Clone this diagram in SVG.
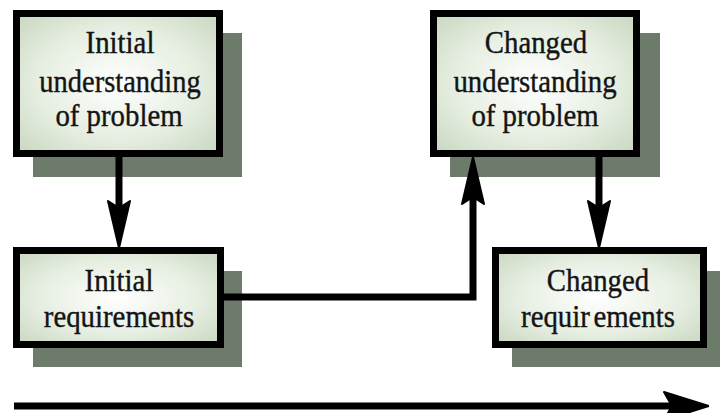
<svg xmlns="http://www.w3.org/2000/svg" width="720" height="413" viewBox="0 0 720 413">
  <defs>
    <radialGradient id="boxFill" cx="50%" cy="50%" r="72%">
      <stop offset="0" stop-color="#ffffff"/>
      <stop offset="0.55" stop-color="#e6eee1"/>
      <stop offset="1" stop-color="#c6d5bd"/>
    </radialGradient>
    <marker id="head" viewBox="0 0 48 24" markerWidth="48" markerHeight="24" markerUnits="userSpaceOnUse" refX="8" refY="12" orient="auto">
      <path d="M1,1 L48,12 L1,23 L8,12 Z" fill="#000" stroke="#000" stroke-width="2" stroke-linejoin="round"/>
    </marker>
    <marker id="bigHead" viewBox="0 0 46 30" markerWidth="46" markerHeight="30" markerUnits="userSpaceOnUse" refX="9" refY="15" orient="auto">
      <path d="M1,1 L46,15 L1,29 L9,15 Z" fill="#000" stroke="#000" stroke-width="2" stroke-linejoin="round"/>
    </marker>
  </defs>
  <style>
    .shadow { fill: #6d7b6b; }
    .box { fill: url(#boxFill); stroke: #000; stroke-width: 7; }
    .label { font-family: 'Liberation Serif', 'DejaVu Serif', serif; font-size: 32px; fill: #141414; stroke: #141414; stroke-width: 0.4; text-anchor: middle; }
    .link { fill: none; stroke: #000; stroke-width: 7; stroke-linejoin: miter; }
  </style>

  <rect width="720" height="413" fill="#ffffff"/>

  <!-- labels are set in a serif face, narrowed horizontally by 10% -->
  <g id="initial-understanding">
    <rect class="shadow" x="33" y="33" width="209" height="144"/>
    <rect class="box" x="16.5" y="13.5" width="203" height="140"/>
    <text class="label" transform="translate(120,53) scale(0.9,1)">Initial</text>
    <text class="label" transform="translate(120,92) scale(0.89,1)">understanding</text>
    <text class="label" transform="translate(119,126) scale(0.9,1)">of problem</text>
  </g>

  <g id="changed-understanding">
    <rect class="shadow" x="450" y="33" width="210" height="144"/>
    <rect class="box" x="433.5" y="13.5" width="203" height="140"/>
    <text class="label" transform="translate(536,53) scale(0.9,1)">Changed</text>
    <text class="label" transform="translate(535,92) scale(0.9,1)">understanding</text>
    <text class="label" transform="translate(535,126) scale(0.9,1)">of problem</text>
  </g>

  <g id="initial-requirements">
    <rect class="shadow" x="33" y="271" width="209" height="96"/>
    <rect class="box" x="16.5" y="250.5" width="204" height="94"/>
    <text class="label" transform="translate(119,291) scale(0.9,1)">Initial</text>
    <text class="label" transform="translate(119,327) scale(0.9,1)">requirements</text>
  </g>

  <g id="changed-requirements">
    <rect class="shadow" x="512" y="271" width="212" height="96"/>
    <rect class="box" x="495.5" y="250.5" width="208" height="94"/>
    <text class="label" transform="translate(598,291) scale(0.9,1)">Changed</text>
    <text class="label" transform="translate(598,327) scale(0.9,1)">requir<tspan dx="4">ements</tspan></text>
  </g>

  <g id="connectors">
    <path class="link" d="M119,157 L119,208" marker-end="url(#head)"/>
    <path class="link" d="M224,297 L473,297 L473,197" marker-end="url(#head)"/>
    <path class="link" d="M599,157 L599,208" marker-end="url(#head)"/>
    <path class="link" d="M14,406 L672,406" stroke-width="9" marker-end="url(#bigHead)"/>
  </g>
</svg>
